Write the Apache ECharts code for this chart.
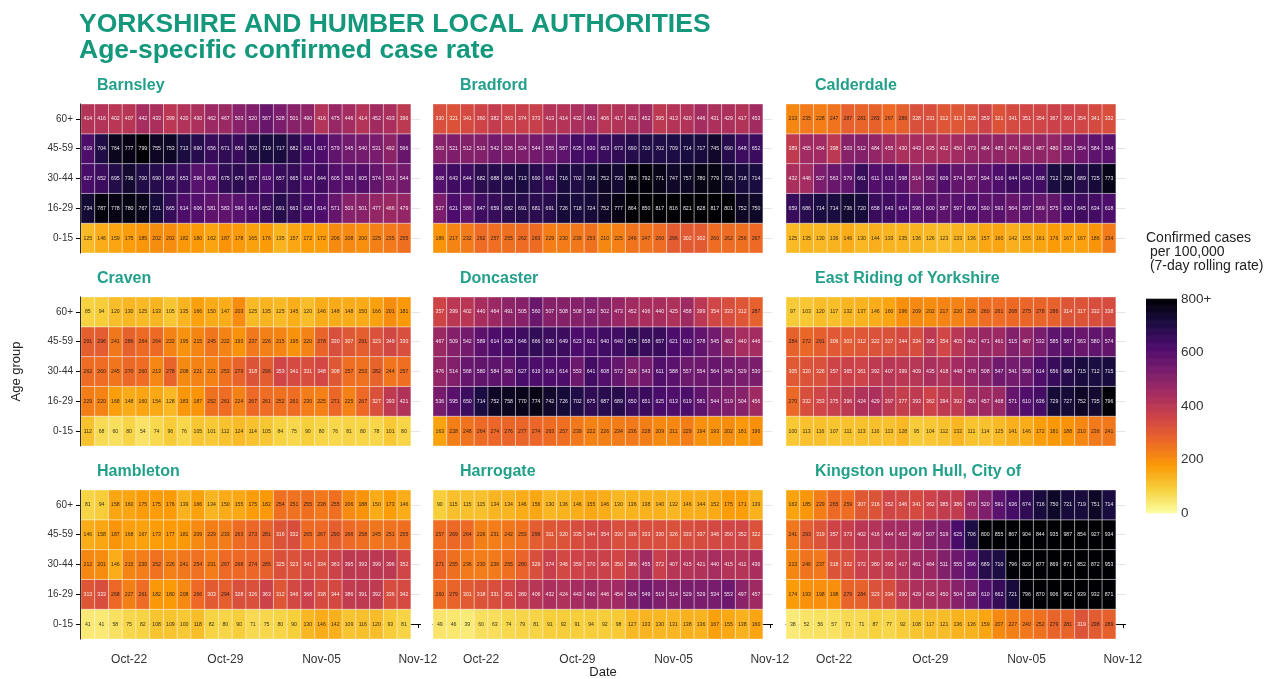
<!DOCTYPE html>
<html>
<head>
<meta charset="utf-8">
<script src="https://cdn.jsdelivr.net/npm/echarts@6/dist/echarts.min.js"></script>
<style>
html,body{margin:0;padding:0;background:#ffffff;}
#chart{width:1275px;height:679px;}
</style>
</head>
<body>
<div id="chart"></div>
<script>
// ---------------- DATA ----------------
const ageGroups = ['0-15', '16-29', '30-44', '45-59', '60+'];
const dates = [
  '2020-10-19','2020-10-20','2020-10-21','2020-10-22','2020-10-23','2020-10-24','2020-10-25','2020-10-26',
  '2020-10-27','2020-10-28','2020-10-29','2020-10-30','2020-10-31','2020-11-01','2020-11-02','2020-11-03',
  '2020-11-04','2020-11-05','2020-11-06','2020-11-07','2020-11-08','2020-11-09','2020-11-10','2020-11-11'
];
const tickDates = ['2020-10-22', '2020-10-29', '2020-11-05', '2020-11-12'];
const tickLabels = ['Oct-22', 'Oct-29', 'Nov-05', 'Nov-12'];
const areaNames = ['Barnsley', 'Bradford', 'Calderdale', 'Craven', 'Doncaster', 'East Riding of Yorkshire',
  'Hambleton', 'Harrogate', 'Kingston upon Hull, City of'];

// rows follow ageGroups order (0-15 ... 60+), columns follow dates
const barnsley = [
  [125,146,159,175,185,202,202,182,180,162,187,178,165,176,135,157,172,172,206,208,200,225,235,255],
  [734,787,778,780,767,721,665,614,606,581,583,596,614,652,691,663,628,614,571,503,501,477,466,479],
  [627,652,695,736,700,690,668,653,596,608,675,679,657,619,657,665,618,644,605,593,605,574,531,544],
  [619,704,764,777,799,755,753,713,690,656,671,656,702,719,717,682,631,617,579,545,540,531,492,566],
  [414,416,402,407,442,433,399,420,430,462,467,503,520,567,528,501,490,416,475,446,414,452,433,396]
];
const bradford = [
  [186,217,232,262,257,255,262,263,229,230,239,253,210,225,246,247,260,296,302,302,260,262,256,267],
  [527,621,586,647,659,682,691,681,691,726,718,724,752,777,864,850,817,816,821,828,817,801,752,750],
  [608,643,644,682,688,694,713,690,662,716,702,726,752,733,783,792,771,747,757,780,779,735,718,714],
  [503,521,512,513,542,526,524,544,555,587,635,630,653,673,690,710,702,709,714,717,745,690,648,652],
  [330,321,341,360,382,363,374,373,413,414,432,451,406,417,431,452,395,413,420,446,431,429,417,453]
];
const calderdale = [
  [125,135,130,136,146,130,144,133,135,136,126,123,133,136,157,160,142,155,161,176,167,167,186,234],
  [659,686,714,714,736,720,658,643,624,596,600,587,597,609,590,593,564,597,569,575,630,645,634,618],
  [432,446,527,563,579,661,611,613,598,514,562,609,574,567,594,616,644,640,638,712,728,689,725,773],
  [389,455,454,398,503,512,484,455,430,443,435,432,450,473,484,485,474,490,487,480,530,554,584,594],
  [213,235,228,247,287,281,283,267,289,328,331,312,313,328,359,321,341,351,354,367,360,354,341,332]
];
const craven = [
  [112,68,60,80,54,74,96,76,105,101,112,124,114,105,84,75,90,80,76,81,80,78,101,80],
  [229,220,168,148,160,154,128,183,187,252,261,224,267,261,252,261,230,225,271,225,267,327,393,421],
  [262,260,245,270,260,213,278,208,221,221,253,279,318,296,353,341,331,348,308,257,253,282,244,257],
  [291,296,241,286,264,264,222,195,215,245,222,193,237,226,215,195,220,278,330,307,291,323,349,330],
  [85,94,120,130,125,133,105,135,166,150,147,203,125,135,125,145,120,146,148,148,150,166,201,181]
];
const doncaster = [
  [163,228,248,264,274,276,277,274,263,257,239,222,226,234,236,228,209,211,229,194,193,202,181,196],
  [536,595,650,714,752,758,770,774,742,726,702,675,687,689,650,651,625,613,619,581,544,519,504,456],
  [476,514,568,580,584,580,627,619,616,614,553,641,608,572,526,543,611,588,557,554,564,545,529,530],
  [467,509,542,589,614,628,646,666,650,649,623,621,640,640,675,658,657,621,610,578,545,482,440,446],
  [357,399,402,440,464,491,505,560,507,508,508,520,502,473,452,436,440,425,458,399,354,333,312,287]
];
const eastRiding = [
  [100,113,116,107,111,113,116,113,128,95,104,112,132,111,114,125,141,146,172,181,188,210,236,241],
  [270,332,353,375,396,424,429,397,377,393,362,394,392,450,457,468,571,610,636,729,727,752,735,796],
  [305,320,326,357,365,361,392,407,399,409,435,418,448,478,508,547,541,558,614,656,688,715,712,715],
  [284,272,291,306,303,312,322,327,344,334,395,354,405,442,471,461,515,487,532,585,587,563,580,574],
  [97,103,120,117,132,137,146,160,196,209,202,217,220,236,260,261,268,275,278,286,314,317,332,338]
];
const hambleton = [
  [41,41,58,75,82,108,109,100,118,82,80,90,71,75,80,90,130,146,142,109,116,120,93,81],
  [313,333,268,227,261,182,180,208,266,303,294,328,326,363,312,346,368,338,344,386,391,392,336,342],
  [212,201,146,215,230,252,226,241,254,231,267,268,274,285,325,323,341,334,363,395,393,399,396,352],
  [146,158,187,168,167,173,177,181,209,229,233,263,273,281,316,332,265,267,290,266,258,245,251,255],
  [81,94,158,160,175,175,176,139,166,134,150,155,175,182,254,251,255,238,255,206,188,150,173,146]
];
const harrogate = [
  [49,46,39,60,63,74,79,81,91,92,91,94,92,98,127,133,130,131,138,136,167,155,138,160],
  [260,279,301,318,331,351,380,406,432,424,443,460,446,454,504,549,519,514,529,529,534,553,497,457],
  [271,255,236,230,236,255,280,329,374,346,359,370,366,350,386,455,372,407,415,421,440,415,411,436],
  [257,269,264,226,231,242,253,296,311,320,335,344,354,330,336,333,330,326,333,337,346,350,352,322],
  [90,115,115,115,134,134,146,156,130,136,146,155,146,130,136,138,140,132,146,144,152,175,171,139]
];
const kingston = [
  [38,52,56,57,71,71,87,77,92,108,117,121,136,136,159,207,227,240,252,279,281,319,298,289],
  [174,193,198,198,279,284,323,334,390,429,435,450,504,538,610,662,721,796,870,906,962,939,932,871],
  [213,246,237,318,332,372,380,395,417,461,464,511,555,596,689,710,796,829,877,869,871,852,872,953],
  [241,293,319,357,373,402,416,444,452,469,507,519,625,706,800,855,867,904,844,935,987,854,927,934],
  [163,185,229,265,259,307,316,352,346,341,362,385,386,470,520,591,636,674,716,750,721,719,751,714]
];
const legendTicks = [0, 200, 400, 600, 800];
const legendTickLabels = ['0', '200', '400', '600', '800+'];

// ---------------- CHART ----------------
const panels = [barnsley, bradford, calderdale, craven, doncaster, eastRiding, hambleton, harrogate, kingston];
const CAP = 800;
const DAY = 86400000;
const HALF_DAY = DAY / 2;
const FONT = '"Liberation Sans", Arial, Helvetica, sans-serif';
const palette = ['#FCFFA4','#F7D03C','#FB9A06','#ED6925','#CF4446','#A52C60','#781C6D','#4B0C6B','#1B0C42','#000004'];

function toTime(s) {
  const p = s.split('-').map(Number);
  return Date.UTC(p[0], p[1] - 1, p[2]);
}
const dateTimes = dates.map(toTime);
const tickTimes = tickDates.map(toTime);
const xMin = dateTimes[0] - HALF_DAY;
const xMax = dateTimes[dateTimes.length - 1] + 1.2 * DAY;

const colLeft = [81, 433, 786];
const titleLeft = [97, 460, 815];
const rowTop = [104, 297, 490];
const gridW = 339.5, gridH = 149;

function cellRenderer(params, api) {
  const t = api.value(0), r = api.value(1), raw = api.value(3);
  const a = api.coord([t - HALF_DAY, r + 0.5]);
  const b = api.coord([t + HALF_DAY, r - 0.5]);
  return {
    type: 'group',
    children: [
      { type: 'rect', shape: { x: a[0], y: a[1], width: b[0] - a[0], height: b[1] - a[1] },
        style: { fill: api.visual('color'), stroke: 'rgba(255,255,255,0.5)', lineWidth: 0.7 } },
      { type: 'text', x: (a[0] + b[0]) / 2, y: (a[1] + b[1]) / 2,
        style: { text: String(raw), fill: raw > 300 ? 'rgba(255,255,255,0.9)' : 'rgba(20,20,20,0.85)', fontSize: 5.2,
          fontFamily: FONT, align: 'center', verticalAlign: 'middle' } }
    ]
  };
}

const grids = [], xAxes = [], yAxes = [], series = [], titles = [];
titles.push({ text: 'YORKSHIRE AND HUMBER LOCAL AUTHORITIES', left: 79, top: 11, padding: 0,
  textStyle: { fontSize: 26.5, fontWeight: 'bold', color: '#14987c', fontFamily: FONT } });
titles.push({ text: 'Age-specific confirmed case rate', left: 79, top: 37, padding: 0,
  textStyle: { fontSize: 26.5, fontWeight: 'bold', color: '#14987c', fontFamily: FONT } });

panels.forEach((rows, i) => {
  const col = i % 3, row = Math.floor(i / 3);
  grids.push({ left: colLeft[col], top: rowTop[row], width: gridW, height: gridH });
  titles.push({ text: areaNames[i], left: titleLeft[col], top: rowTop[row] - 26, padding: 0,
    textStyle: { fontSize: 16, fontWeight: 'bold', color: '#23a08a', fontFamily: FONT } });
  const bottom = row === 2, left = col === 0;
  xAxes.push({
    type: 'value', gridIndex: i, min: xMin, max: xMax, offset: 2,
    axisLine: { show: bottom, lineStyle: { color: '#000', width: 1 } },
    axisTick: { show: bottom, length: 4, customValues: tickTimes, lineStyle: { color: '#000' } },
    axisLabel: { show: bottom, customValues: tickTimes, fontSize: 12, color: '#333', fontFamily: FONT, margin: 13,
      formatter: v => { const k = tickTimes.indexOf(v); return k >= 0 ? tickLabels[k] : ''; } },
    splitLine: { show: false }
  });
  yAxes.push({
    type: 'value', gridIndex: i, min: -0.5, max: 4.5, offset: 1,
    axisLine: { show: left, lineStyle: { color: '#000', width: 1 } },
    axisTick: { show: left, length: 4, customValues: [0, 1, 2, 3, 4], lineStyle: { color: '#000' } },
    axisLabel: { show: left, customValues: [0, 1, 2, 3, 4], fontSize: 10, color: '#333', fontFamily: FONT, margin: 7,
      formatter: v => ageGroups[v] || '' },
    splitLine: { show: true, lineStyle: { color: '#e6e6e6', width: 1 } },
    name: i === 3 ? 'Age group' : '', nameLocation: 'middle', nameGap: 57, nameRotate: 90,
    nameTextStyle: { fontSize: 13, color: '#222', fontFamily: FONT }
  });
  const data = [];
  rows.forEach((vals, r) => vals.forEach((v, c) => data.push([dateTimes[c], r, Math.min(v, CAP), v])));
  series.push({ type: 'custom', name: areaNames[i], xAxisIndex: i, yAxisIndex: i,
    encode: { x: 0, y: 1 }, renderItem: cellRenderer, data: data, silent: true });
});

// colour bar legend, drawn through its own value axis
grids.push({ left: 1146, top: 299, width: 31, height: 214 });
xAxes.push({ type: 'value', gridIndex: 9, min: 0, max: 1, show: false });
yAxes.push({
  type: 'value', gridIndex: 9, min: legendTicks[0], max: legendTicks[legendTicks.length - 1], interval: 200,
  position: 'right',
  axisLine: { show: false },
  axisTick: { show: true, inside: true, length: 5, customValues: [200, 400, 600], lineStyle: { color: 'rgba(255,255,255,0.8)' } },
  axisLabel: { fontSize: 13.5, color: '#333', fontFamily: FONT, margin: 4,
    formatter: v => { const k = legendTicks.indexOf(v); return k >= 0 ? legendTickLabels[k] : ''; } },
  splitLine: { show: false }
});
const STEP = 2;
const barData = [];
for (let v = legendTicks[0]; v < legendTicks[legendTicks.length - 1]; v += STEP) barData.push([0, v, v + STEP / 2]);
series.push({ type: 'custom', xAxisIndex: 9, yAxisIndex: 9, encode: { x: 0, y: 1 }, silent: true, data: barData,
  renderItem: (params, api) => {
    const v = api.value(1);
    const a = api.coord([0, v + STEP]);
    const b = api.coord([1, v]);
    return { type: 'rect', shape: { x: a[0], y: a[1] - 0.3, width: b[0] - a[0], height: b[1] - a[1] + 0.6 },
      style: { fill: api.visual('color') } };
  } });
titles.push({ text: 'Confirmed cases\n per 100,000\n (7-day rolling rate)', left: 1146, top: 231, padding: 0,
  textStyle: { fontSize: 14, lineHeight: 14, fontWeight: 'normal', color: '#222', fontFamily: FONT } });

const chart = echarts.init(document.getElementById('chart'), null, { renderer: 'canvas' });
chart.setOption({
  backgroundColor: '#ffffff',
  animation: false,
  title: titles,
  grid: grids,
  xAxis: xAxes,
  yAxis: yAxes,
  visualMap: { type: 'continuous', show: false, min: 0, max: CAP, dimension: 2, inRange: { color: palette } },
  graphic: [{ type: 'text', x: 603, y: 672,
    style: { text: 'Date', fontSize: 13, fill: '#222', fontFamily: FONT, align: 'center', verticalAlign: 'middle' } }],
  series: series
});
</script>
</body>
</html>
